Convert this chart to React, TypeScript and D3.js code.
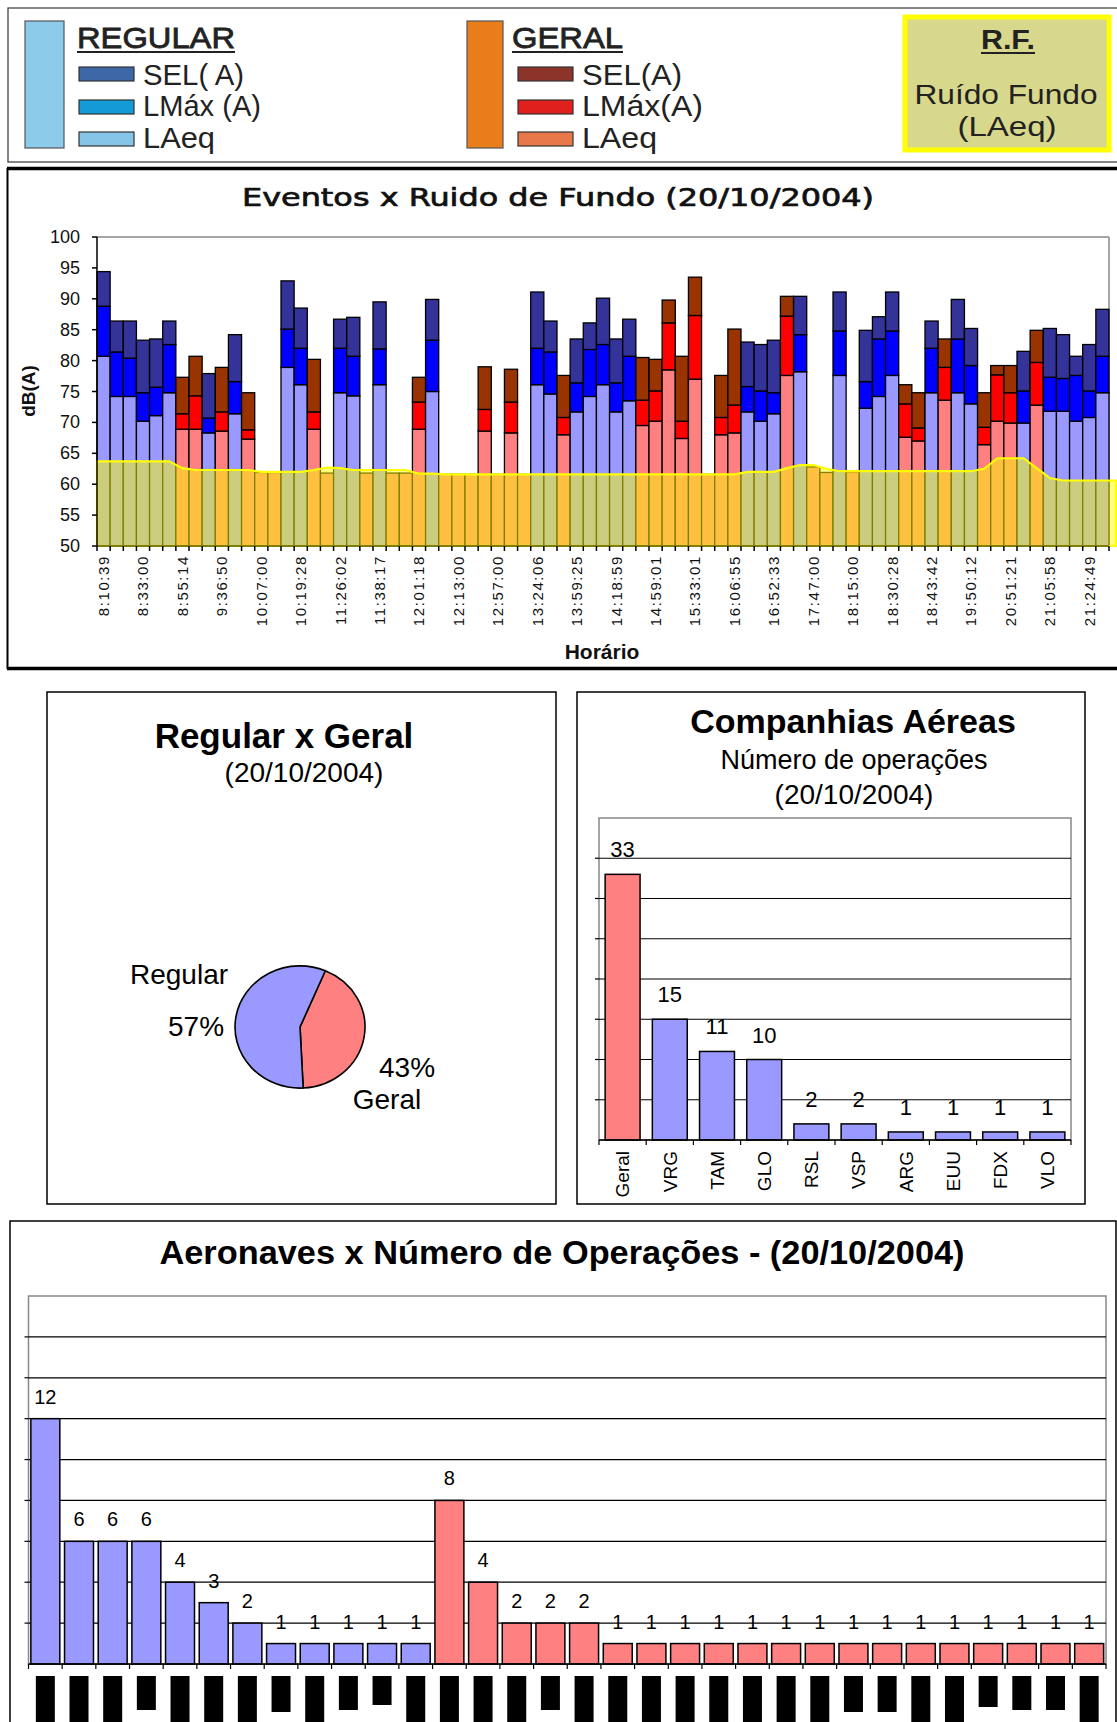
import React from "react";
import * as d3 from "d3";

const FONT = "'Liberation Sans', Arial, sans-serif";
const NARROW = "'Liberation Sans Narrow', 'Liberation Sans', Arial, sans-serif";

// ---------- Eventos x Ruido de Fundo ----------
const eventKind = [
  "R","R","R","R","R","R","G","G","R","G","R","G","G","G","R","R","G","G","R","R",
  "G","R","G","G","G","R","G","G","G","G","G","G","G","R","R","G","R","R","R","R",
  "R","G","G","G","G","G","G","G","G","R","R","R","G","R","G","G","R","G","R","R",
  "R","G","G","R","G","R","R","G","G","G","R","G","R","R","R","R","R"
];
const laeq = [
  80.7,74.2,74.2,70.2,71.1,74.8,68.9,68.9,68.3,68.6,71.4,67.3,61.9,61.9,78.9,76.1,68.9,61.8,74.8,74.3,
  61.8,76.1,61.8,61.8,68.9,75.0,61.6,61.6,61.6,68.6,61.6,68.3,61.6,76.1,74.6,68.0,71.7,74.2,76.1,71.7,
  73.5,69.5,70.2,78.5,67.4,77.0,61.6,68.0,68.3,71.7,70.2,71.4,77.6,78.2,62.8,61.9,77.6,62.0,72.3,74.2,
  77.6,67.6,67.0,74.8,73.6,74.8,73.0,66.4,70.2,69.9,69.9,72.8,71.8,71.8,70.2,70.8,74.8
];
const lmax = [
  88.8,81.4,80.4,74.8,75.7,82.6,71.4,74.3,70.7,71.7,76.6,68.8,61.9,61.9,85.1,82.0,71.7,61.8,82.0,80.7,
  61.8,81.9,61.8,61.8,73.3,83.3,61.6,61.6,61.6,72.1,61.6,73.3,61.6,82.0,81.4,70.8,76.4,81.8,82.6,76.4,
  80.7,73.6,75.1,86.1,70.2,87.3,61.6,70.8,72.8,75.8,75.1,74.8,87.2,84.2,62.8,61.9,84.8,62.0,76.6,83.5,
  84.8,73.0,69.1,82.0,78.9,83.5,79.2,69.2,77.7,74.8,75.1,79.7,77.3,77.1,77.6,75.1,80.7
];
const sel = [
  94.4,86.4,86.4,83.3,83.5,86.4,77.3,80.7,77.9,78.9,84.2,74.8,61.9,61.9,92.9,88.5,80.2,61.8,86.7,87.0,
  61.8,89.5,61.8,61.8,77.3,89.9,61.6,61.6,61.6,79.0,61.6,78.6,61.6,91.1,86.4,77.6,83.5,86.1,90.1,83.5,
  86.7,80.5,80.2,89.8,80.7,93.5,61.6,77.6,85.1,83.0,82.6,83.3,90.4,90.4,62.8,61.9,91.1,62.0,84.9,87.1,
  91.1,76.1,74.8,86.4,83.5,89.9,85.2,74.8,79.2,79.2,81.5,84.9,85.2,84.2,80.7,82.6,88.3
];
const rf = [
  63.7,63.7,63.7,63.7,63.7,63.7,62.6,62.3,62.3,62.3,62.3,62.3,62.0,62.0,62.0,62.0,62.3,62.7,62.6,62.3,
  62.3,62.3,62.3,62.3,61.7,61.7,61.6,61.6,61.6,61.6,61.6,61.6,61.6,61.6,61.6,61.6,61.6,61.6,61.6,61.6,
  61.6,61.6,61.6,61.6,61.6,61.6,61.6,61.6,61.6,62.0,62.0,62.0,62.6,63.1,63.1,62.5,62.1,62.1,62.1,62.1,
  62.1,62.1,62.1,62.1,62.1,62.1,62.1,62.5,64.2,64.2,64.2,62.6,61.0,60.6,60.6,60.6,60.6
];
const timeLabels = [
  "8:10:39","8:33:00","8:55:14","9:36:50","10:07:00","10:19:28","11:26:02","11:38:17","12:01:18",
  "12:13:00","12:57:00","13:24:06","13:59:25","14:18:59","14:59:01","15:33:01","16:06:55","16:52:33",
  "17:47:00","18:15:00","18:30:28","18:43:42","19:50:12","20:51:21","21:05:58","21:24:49"
];
const mainYTicks = [100, 95, 90, 85, 80, 75, 70, 65, 60, 55, 50];

// ---------- Regular x Geral ----------
const pieLabels = ["Geral", "Regular"];
const pieValues = [33, 44];

// ---------- Companhias Aéreas ----------
const companies = ["Geral","VRG","TAM","GLO","RSL","VSP","ARG","EUU","FDX","VLO"];
const companyOps = [33, 15, 11, 10, 2, 2, 1, 1, 1, 1];
const companyGroup = ["G","R","R","R","R","R","R","R","R","R"];
const companyGrid = [5, 10, 15, 20, 25, 30, 35];

// ---------- Aeronaves ----------
const aircraftOps = [12,6,6,6,4,3,2,1,1,1,1,1,8,4,2,2,2,1,1,1,1,1,1,1,1,1,1,1,1,1,1,1];
const aircraftGroup = [
  "R","R","R","R","R","R","R","R","R","R","R","R",
  "G","G","G","G","G","G","G","G","G","G","G","G","G","G","G","G","G","G","G","G"
];
const aircraftRedactLen = [50,50,50,34,50,50,50,36,50,34,29,50,50,50,50,34,50,50,50,50,50,50,50,50,36,36,50,50,31,34,34,50];
const aircraftGrid = [2, 4, 6, 8, 10, 12, 14, 16];

const MAIN_COL: Record<string, string[]> = {
  R: ["#9999ff", "#0000ff", "#333399"],
  G: ["#ff8080", "#ff0000", "#993300"],
};
const GROUP_FILL: Record<string, string> = { R: "#9999ff", G: "#ff8080" };

function Legend() {
  const sw = (x: number, y: number, fill: string) => (
    <rect x={x} y={y} width={55} height={14} fill={fill} stroke="#333" strokeWidth={1.2} />
  );
  const t = (x: number, y: number, s: string, len: number, size = 29, bold = false) => (
    <text x={x} y={y} fontFamily={NARROW} fontSize={size} fill="#222" stroke={bold ? "#222" : "none"} strokeWidth={bold ? 0.8 : 0} textLength={len} lengthAdjust="spacingAndGlyphs">{s}</text>
  );
  return (
    <g>
      <rect x={8} y={8} width={1115} height={154} fill="#fff" stroke="#444" strokeWidth={1.3} />
      <rect x={25} y={21} width={39} height={127} fill="#8ccbea" stroke="#555" strokeWidth={1.2} />
      {t(77, 48, "REGULAR", 158, 30, true)}
      <line x1={77} x2={235} y1={52} y2={52} stroke="#222" strokeWidth={2} />
      {sw(79, 67, "#3d67a6")}
      {t(143, 85, "SEL( A)", 101)}
      {sw(79, 100, "#139bd8")}
      {t(143, 116, "LMáx (A)", 118)}
      {sw(79, 132, "#86c4e8")}
      {t(143, 148, "LAeq", 72)}

      <rect x={467} y={21} width={36} height={127} fill="#e87d1a" stroke="#555" strokeWidth={1.2} />
      {t(512, 48, "GERAL", 111, 30, true)}
      <line x1={512} x2={623} y1={52} y2={52} stroke="#222" strokeWidth={2} />
      {sw(518, 67, "#8c3429")}
      {t(582, 85, "SEL(A)", 100)}
      {sw(518, 100, "#e0201c")}
      {t(582, 116, "LMáx(A)", 121)}
      {sw(518, 132, "#e8784a")}
      {t(582, 148, "LAeq", 75)}

      <rect x={905} y={17} width={204} height={133} fill="#d8d88c" stroke="#ffff00" strokeWidth={5} />
      <text x={1008} y={49} fontFamily={NARROW} fontSize={27} fontWeight="bold" fill="#222" textAnchor="middle" textLength={54} lengthAdjust="spacingAndGlyphs">R.F.</text>
      <line x1={981} x2={1035} y1={53} y2={53} stroke="#222" strokeWidth={2} />
      <text x={1006} y={104} fontFamily={NARROW} fontSize={28} fill="#222" textAnchor="middle" textLength={183} lengthAdjust="spacingAndGlyphs">Ruído Fundo</text>
      <text x={1007} y={136} fontFamily={NARROW} fontSize={28} fill="#222" textAnchor="middle" textLength={99} lengthAdjust="spacingAndGlyphs">(LAeq)</text>
    </g>
  );
}

function MainChart() {
  const N = laeq.length;
  const x0 = 97, x1 = 1109, yTop = 237, yBot = 546;
  const x = d3.scaleBand<number>().domain(d3.range(N)).range([x0, x1]).paddingInner(0).paddingOuter(0);
  const y = d3.scaleLinear().domain([50, 100]).range([yBot, yTop]);
  const bw = x.bandwidth();
  const cx = (i: number) => (x(i) as number) + bw / 2;

  const rfPts: [number, number][] = [[x0, rf[0]], ...rf.map((v, i) => [cx(i), v] as [number, number]), [1116, rf[N - 1]]];
  const area = d3.area<[number, number]>().x((d) => d[0]).y0(y(50)).y1((d) => y(d[1]));

  return (
    <g>
      <line x1={7} x2={1117} y1={168.5} y2={168.5} stroke="#000" strokeWidth={3.5} />
      <line x1={7} x2={1117} y1={668.5} y2={668.5} stroke="#000" strokeWidth={3.5} />
      <line x1={7.5} x2={7.5} y1={168} y2={669} stroke="#000" strokeWidth={2} />
      <text x={558} y={206} fontFamily="'DejaVu Sans', Verdana, sans-serif" fontSize={25} textAnchor="middle" fill="#111" stroke="#111" strokeWidth={0.7} textLength={632} lengthAdjust="spacingAndGlyphs">
        Eventos x Ruido de Fundo (20/10/2004)
      </text>

      {/* plot frame */}
      <line x1={x0} x2={x1} y1={yTop} y2={yTop} stroke="#888" strokeWidth={1.5} />
      <line x1={x1} x2={x1} y1={yTop} y2={yBot} stroke="#888" strokeWidth={1.5} />

      {/* bars */}
      {laeq.map((v, i) => {
        const c = MAIN_COL[eventKind[i]];
        const segs: [number, number, string][] = [[50, v, c[0]], [v, lmax[i], c[1]], [lmax[i], sel[i], c[2]]];
        return (
          <g key={i}>
            {segs.filter((s) => s[1] - s[0] > 0.05).map((s, k) => (
              <rect key={k} x={x(i)} y={y(s[1])} width={bw} height={y(s[0]) - y(s[1])} fill={s[2]} stroke="#000" strokeWidth={1.3} />
            ))}
          </g>
        );
      })}

      {/* background noise area */}
      <path d={area(rfPts) || ""} fill="#ffff00" fillOpacity={0.5} stroke="#ffff00" strokeWidth={2.2} />

      {/* axes */}
      <line x1={x0} x2={x0} y1={yTop} y2={yBot} stroke="#000" strokeWidth={1.5} />
      <line x1={x0} x2={x1} y1={yBot} y2={yBot} stroke="#000" strokeWidth={1.2} />
      {mainYTicks.map((t) => (
        <g key={t}>
          <line x1={x0 - 5} x2={x0} y1={y(t)} y2={y(t)} stroke="#000" strokeWidth={1.5} />
          <text x={80} y={y(t) + 6} fontFamily={NARROW} fontSize={18} textAnchor="end" fill="#111">{t}</text>
        </g>
      ))}
      {d3.range(N + 1).map((i) => {
        const xx = x0 + i * bw;
        return <line key={i} x1={xx} x2={xx} y1={yBot} y2={yBot + 5} stroke="#000" strokeWidth={1.5} />;
      })}
      {timeLabels.map((s, k) => (
        <text key={s} transform={`translate(${cx(k * 3)},555) rotate(-90)`} dy="0.36em" fontFamily={FONT} fontSize={15} letterSpacing={1.6} textAnchor="end" fill="#111">{s}</text>
      ))}
      <text transform="translate(35,391) rotate(-90)" fontFamily={FONT} fontSize={19} fontWeight="bold" textAnchor="middle" fill="#111">dB(A)</text>
      <text x={602} y={659} fontFamily={FONT} fontSize={21} fontWeight="bold" textAnchor="middle" fill="#111">Horário</text>
    </g>
  );
}

function PieChart() {
  const pie = d3.pie<number>().sort(null).startAngle(0.4).endAngle(0.4 + Math.PI * 2);
  const arcs = pie(pieValues);
  const arc = d3.arc<d3.PieArcDatum<number>>().innerRadius(0).outerRadius(65);
  const fills: Record<string, string> = { Geral: "#ff8080", Regular: "#9999ff" };
  return (
    <g>
      <rect x={47} y={692} width={509} height={512} fill="#fff" stroke="#000" strokeWidth={1.5} />
      <text x={284} y={748} fontFamily={FONT} fontSize={35} fontWeight="bold" textAnchor="middle" fill="#000">Regular x Geral</text>
      <text x={304} y={782} fontFamily={FONT} fontSize={28} textAnchor="middle" fill="#000">(20/10/2004)</text>
      <g transform="translate(300,1027) scale(1,0.94)">
        {arcs.map((a, i) => (
          <path key={i} d={arc(a) || ""} fill={fills[pieLabels[i]]} stroke="#000" strokeWidth={1.6} vectorEffect="non-scaling-stroke" />
        ))}
      </g>
      <text x={179} y={984} fontFamily={FONT} fontSize={28} textAnchor="middle" fill="#000">Regular</text>
      <text x={196} y={1036} fontFamily={FONT} fontSize={28} textAnchor="middle" fill="#000">{Math.round((pieValues[1] / d3.sum(pieValues)) * 100)}%</text>
      <text x={407} y={1077} fontFamily={FONT} fontSize={28} textAnchor="middle" fill="#000">{Math.round((pieValues[0] / d3.sum(pieValues)) * 100)}%</text>
      <text x={387} y={1109} fontFamily={FONT} fontSize={28} textAnchor="middle" fill="#000">Geral</text>
    </g>
  );
}

function CompanyChart() {
  const x0 = 599, x1 = 1071, yTop = 818, yBot = 1140;
  const x = d3.scaleBand<string>().domain(companies).range([x0, x1]).paddingInner(0.26).paddingOuter(0.13);
  const y = d3.scaleLinear().domain([0, 40]).range([yBot, yTop]);
  const step = x.step();
  const bw = x.bandwidth();
  return (
    <g>
      <rect x={577} y={692} width={508} height={512} fill="#fff" stroke="#000" strokeWidth={1.5} />
      <text x={853} y={733} fontFamily={FONT} fontSize={34} fontWeight="bold" textAnchor="middle" fill="#000">Companhias Aéreas</text>
      <text x={854} y={769} fontFamily={FONT} fontSize={27} textAnchor="middle" fill="#000">Número de operações</text>
      <text x={854} y={804} fontFamily={FONT} fontSize={28} textAnchor="middle" fill="#000">(20/10/2004)</text>
      <rect x={x0} y={yTop} width={x1 - x0} height={yBot - yTop} fill="#fff" stroke="#888" strokeWidth={1.5} />
      {companyGrid.map((g) => (
        <g key={g}>
          <line x1={x0} x2={x1} y1={y(g)} y2={y(g)} stroke="#000" strokeWidth={1.2} />
          <line x1={x0 - 4} x2={x0} y1={y(g)} y2={y(g)} stroke="#000" strokeWidth={1.2} />
        </g>
      ))}
      {companies.map((c, i) => (
        <g key={c}>
          <rect x={x(c)} y={y(companyOps[i])} width={bw} height={yBot - y(companyOps[i])} fill={GROUP_FILL[companyGroup[i]]} stroke="#000" strokeWidth={1.5} />
          <text x={(x(c) as number) + bw / 2} y={y(companyOps[i]) - 17} fontFamily={FONT} fontSize={22} textAnchor="middle" fill="#000">{companyOps[i]}</text>
          <text transform={`translate(${(x(c) as number) + bw / 2},1151) rotate(-90)`} dy="0.36em" fontFamily={FONT} fontSize={19} textAnchor="end" fill="#000">{c}</text>
        </g>
      ))}
      <line x1={x0} x2={x1} y1={yBot} y2={yBot} stroke="#000" strokeWidth={1.5} />
      {d3.range(companies.length + 1).map((i) => (
        <line key={i} x1={x0 + i * step} x2={x0 + i * step} y1={yBot} y2={yBot + 5} stroke="#000" strokeWidth={1.2} />
      ))}
    </g>
  );
}

function AircraftChart() {
  const n = aircraftOps.length;
  const x0 = 28.5, x1 = 1106, yTop = 1296, yBot = 1664;
  const x = d3.scaleBand<number>().domain(d3.range(n)).range([x0, x1]).paddingInner(0.14).paddingOuter(0.07);
  const y = d3.scaleLinear().domain([0, 18]).range([yBot, yTop]);
  const bw = x.bandwidth();
  const step = (x1 - x0) / n;
  return (
    <g>
      <rect x={10} y={1221} width={1106} height={520} fill="#fff" stroke="#000" strokeWidth={1.5} />
      <text x={562} y={1264} fontFamily={FONT} fontSize={33} fontWeight="bold" textAnchor="middle" fill="#000" textLength={805} lengthAdjust="spacingAndGlyphs">Aeronaves x Número de Operações - (20/10/2004)</text>
      <rect x={x0} y={yTop} width={x1 - x0} height={yBot - yTop} fill="#fff" stroke="#888" strokeWidth={1.5} />
      {aircraftGrid.map((g) => (
        <g key={g}>
          <line x1={x0} x2={x1} y1={y(g)} y2={y(g)} stroke="#000" strokeWidth={1.2} />
          <line x1={x0 - 4} x2={x0} y1={y(g)} y2={y(g)} stroke="#000" strokeWidth={1.2} />
        </g>
      ))}
      {aircraftOps.map((v, i) => {
        const bx = x(i) as number;
        return (
          <g key={i}>
            <rect x={bx} y={y(v)} width={bw} height={yBot - y(v)} fill={GROUP_FILL[aircraftGroup[i]]} stroke="#000" strokeWidth={1.5} />
            <text x={bx + bw / 2} y={y(v) - 15} fontFamily={FONT} fontSize={20} textAnchor="middle" fill="#000">{v}</text>
            <rect x={bx + bw / 2 - 9.5} y={1676} width={19} height={aircraftRedactLen[i]} fill="#000" />
          </g>
        );
      })}
      <line x1={x0} x2={x1} y1={yBot} y2={yBot} stroke="#000" strokeWidth={1.5} />
      {d3.range(n + 1).map((i) => (
        <line key={i} x1={x0 + i * step} x2={x0 + i * step} y1={yBot} y2={yBot + 5} stroke="#000" strokeWidth={1.2} />
      ))}
    </g>
  );
}

export default function App() {
  return (
    <svg width={1117} height={1722} viewBox="0 0 1117 1722" style={{ position: "absolute", left: 0, top: 0, display: "block", background: "#fff" }}>
      <rect x={0} y={0} width={1117} height={1722} fill="#fff" />
      <Legend />
      <MainChart />
      <PieChart />
      <CompanyChart />
      <AircraftChart />
    </svg>
  );
}
